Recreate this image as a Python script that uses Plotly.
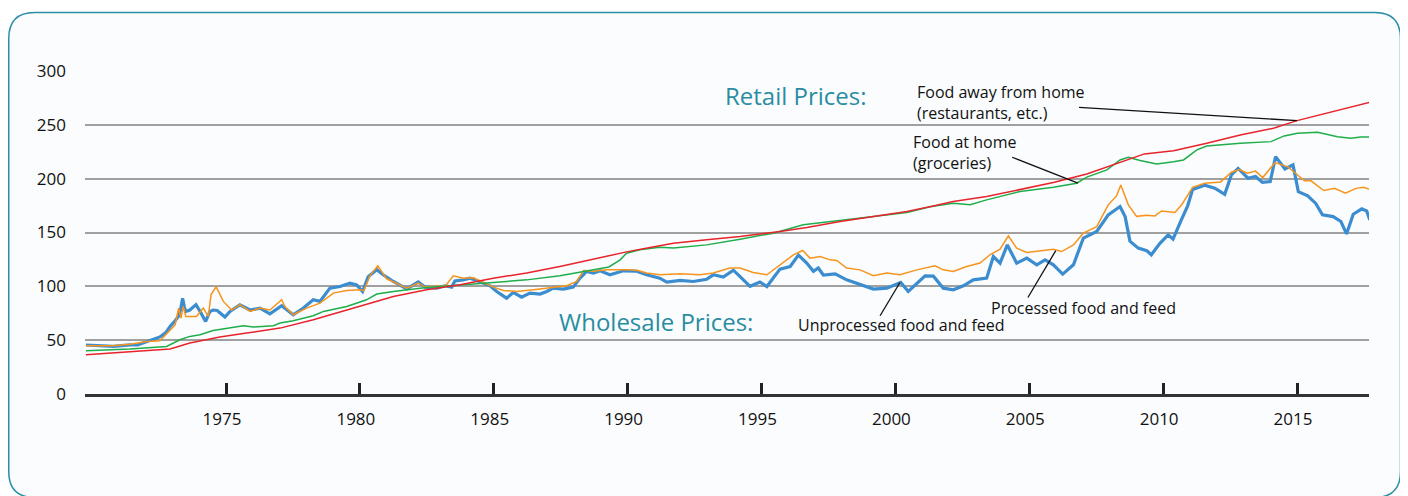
import plotly.graph_objects as go

# ---------------- data (decimal years, index values) ----------------
unproc_x = [1969.77, 1970.3, 1970.79, 1971.1, 1971.41, 1971.7, 1972.04, 1972.3, 1972.53, 1972.75, 1972.91,
            1973.1, 1973.22, 1973.3, 1973.38, 1973.45, 1973.5, 1973.65, 1973.88, 1974.03, 1974.24, 1974.4,
            1974.52, 1974.67, 1974.84, 1974.96, 1975.15, 1975.52, 1975.9, 1976.27, 1976.64, 1977.08, 1977.51,
            1977.89, 1978.26, 1978.51, 1978.88, 1979.26, 1979.63, 1979.88, 1980.1, 1980.31, 1980.63, 1980.87,
            1981.25, 1981.5, 1981.75, 1982.18, 1982.43, 1982.87, 1983.18, 1983.43, 1983.55, 1983.86, 1984.11,
            1984.36, 1984.61, 1984.86, 1985.11, 1985.48, 1985.73, 1986.04, 1986.35, 1986.73, 1986.98, 1987.22,
            1987.6, 1987.97, 1988.22, 1988.47, 1988.72, 1988.97, 1989.34, 1989.84, 1990.34, 1990.71, 1991.2,
            1991.46, 1991.96, 1992.45, 1992.95, 1993.2, 1993.57, 1993.95, 1994.2, 1994.57, 1994.94, 1995.2,
            1995.69, 1996.07, 1996.38, 1996.69, 1996.94, 1997.12, 1997.31, 1997.75, 1998.18, 1998.68, 1999.18,
            1999.68, 2000.2, 2000.48, 2000.8, 2001.11, 2001.42, 2001.79, 2002.16, 2002.54, 2002.91, 2003.41,
            2003.66, 2003.91, 2004.18, 2004.53, 2004.91, 2005.28, 2005.59, 2005.9, 2006.25, 2006.65, 2007.02,
            2007.52, 2007.95, 2008.39, 2008.58, 2008.76, 2009.07, 2009.39, 2009.56, 2009.88, 2010.19, 2010.37,
            2010.68, 2010.92, 2011.1, 2011.55, 2011.93, 2012.3, 2012.55, 2012.8, 2013.17, 2013.45, 2013.71,
            2014.0, 2014.2, 2014.55, 2014.85, 2015.05, 2015.4, 2015.7, 2015.95, 2016.35, 2016.64, 2016.85,
            2017.1, 2017.42, 2017.6, 2017.72]
unproc_y = [45.5, 45, 44.2, 45, 45.7, 45.5, 48.5, 51, 53, 57, 62.7,
            68, 72, 78, 89, 80, 76.7, 78, 83, 76.7, 67.4, 76.7,
            78, 77.6, 73.6, 71.5, 76.7, 82.9, 78, 79.8, 74.5, 82, 73.6,
            79.8, 87.5, 86, 98.3, 99.8, 103, 101.4, 95.2, 109, 115.5, 110.7,
            104.5, 101.4, 97.7, 104, 99.3, 98.3, 100.5, 99.3, 105, 106, 107.6,
            105.4, 103, 100.5, 95.2, 89, 94.3, 90, 93.7, 92.8, 95.2, 98.3,
            97.4, 99.3, 107.6, 113.8, 112.3, 114.4, 110.7, 114.4, 114, 110.7, 107.6,
            104, 105.5, 104.5, 106.5, 110.7, 108.6, 115, 109, 100, 104, 99.8,
            116, 118.4, 129, 121.6, 114, 117, 110.5, 111.6, 106, 101.4, 97.4,
            98.3, 103.6, 95.2, 103, 109.8, 109.5, 98.3, 96.8, 100.5, 106, 107.6,
            127.7, 121.6, 138.5, 121.6, 126.2, 120, 124.6, 120, 111.3, 120, 144.8,
            150.9, 166.4, 174.1, 164.8, 142, 135.5, 133, 129.3, 140, 147.8, 143.8,
            161.7, 175, 190, 194, 191.1, 185.5, 203.5, 209.5, 200.4, 202, 196.5,
            197.3, 220.5, 209, 212.8, 188, 184, 177, 166.5, 164.8, 160.2, 148.7,
            167, 172, 170, 161.7]

proc_x = [1969.77, 1970.79, 1971.41, 1972.04, 1972.53, 1972.91, 1973.1, 1973.23, 1973.32, 1973.4, 1973.5,
          1973.9, 1974.15, 1974.34, 1974.44, 1974.63, 1974.9, 1975.21, 1975.52, 1975.9, 1976.27, 1976.64,
          1977.08, 1977.2, 1977.51, 1978.01, 1978.51, 1979.01, 1979.51, 1980.0, 1980.15, 1980.38, 1980.67,
          1981.0, 1981.5, 1981.75, 1982.18, 1982.43, 1983.2, 1983.49, 1983.86, 1984.24, 1984.61, 1984.99,
          1985.36, 1985.85, 1986.48, 1987.1, 1987.72, 1988.1, 1988.35, 1988.72, 1989.21, 1989.96, 1990.34,
          1990.71, 1991.2, 1991.96, 1992.7, 1993.2, 1993.82, 1994.2, 1994.69, 1995.2, 1995.69, 1996.19,
          1996.54, 1996.81, 1997.19, 1997.56, 1997.81, 1998.18, 1998.68, 1999.18, 1999.68, 2000.17, 2000.8,
          2001.48, 2001.79, 2002.16, 2002.66, 2003.16, 2003.53, 2003.91, 2004.22, 2004.53, 2004.91, 2005.53,
          2005.9, 2006.21, 2006.65, 2007.02, 2007.52, 2007.95, 2008.26, 2008.42, 2008.7, 2009.01, 2009.39,
          2009.69, 2009.94, 2010.44, 2010.7, 2011.1, 2011.55, 2012.15, 2012.55, 2012.85, 2013.14, 2013.45,
          2013.72, 2014.18, 2014.65, 2014.9, 2015.28, 2015.52, 2016.0, 2016.4, 2016.81, 2017.2, 2017.5, 2017.75]
proc_y = [44.8, 44.8, 46.3, 48.8, 49.4, 59.7, 64.3, 79.8, 70.5, 81.3, 72,
          72, 79.8, 72, 92.1, 99.8, 86, 78, 82.9, 76.7, 79.8, 78,
          87.5, 81.3, 73.6, 79.8, 84.4, 93.7, 96.1, 96.8, 96, 110, 119,
          107, 101, 98.3, 103, 99.3, 100.5, 109.8, 107.6, 108, 103.6, 99.3,
          96.1, 95.2, 96.8, 98.3, 100.5, 104.5, 114.7, 114, 115.3, 115.3, 115,
          112.3, 110.7, 111.6, 110.7, 112.3, 117, 117, 112.8, 110.7, 120, 129.3,
          133.3, 126.2, 127.7, 124.6, 124, 117, 115.3, 109.8, 112.3, 110.7, 115.3,
          119, 115.3, 113.8, 118.4, 121.6, 129.3, 134.5, 146.9, 135.5, 131.4, 133.3,
          134.5, 132.3, 138.5, 149.4, 155.5, 175.7, 184, 194.2, 175.7, 165, 166,
          165.4, 170, 168.5, 176, 192, 195.8, 197, 206, 208.5, 205, 207,
          201, 215, 211.2, 206, 198, 198, 189, 191.1, 186.5, 191, 192, 189.6]

away_x = [1969.77, 1971.0, 1972.0, 1972.91, 1973.65, 1974.77, 1975.77, 1977.02, 1978.26, 1979.51, 1980.38,
          1981.25, 1982.49, 1983.74, 1984.98, 1986.23, 1987.47, 1988.72, 1989.96, 1990.84, 1991.71, 1992.95,
          1994.2, 1995.69, 1996.69, 1997.94, 1999.18, 2000.43, 2001.29, 2002.16, 2003.41, 2004.65, 2005.9,
          2007.15, 2008.39, 2009.3, 2010.39, 2011.63, 2012.88, 2014.12, 2015.0, 2015.99, 2017.73]
away_y = [36.5, 38.5, 40, 41.8, 47.3, 52.9, 56.6, 61.2, 68.9, 78.2, 84.4,
          90.6, 96.8, 101.4, 107.6, 112.3, 118.4, 125.3, 132, 136, 140.1, 143.2,
          146.2, 150.9, 154.6, 160.2, 164.8, 169.5, 174, 178.7, 183.4, 189.6, 196.4,
          204.4, 214.9, 223, 226, 232.9, 240.6, 246.8, 253.9, 260.1, 271]

home_x = [1969.77, 1971.41, 1972.78, 1973.28, 1973.65, 1974.03, 1974.52, 1975.15, 1975.65, 1976.02, 1976.77,
          1977.02, 1977.51, 1978.26, 1978.64, 1979.51, 1980.25, 1980.63, 1981.25, 1982.49, 1983.74, 1984.98,
          1986.23, 1987.47, 1988.72, 1989.3, 1989.72, 1989.96, 1990.46, 1991.2, 1991.71, 1992.95, 1994.2,
          1995.44, 1996.56, 1997.94, 1999.18, 2000.43, 2001.29, 2002.16, 2002.79, 2003.41, 2004.65, 2005.9,
          2006.77, 2007.15, 2007.9, 2008.39, 2008.7, 2009.14, 2009.76, 2010.39, 2010.76, 2011.26, 2011.63,
          2012.88, 2014.03, 2014.52, 2015.02, 2015.77, 2016.51, 2017.01, 2017.38, 2017.73]
home_y = [40.2, 41.8, 44.2, 50.4, 53.5, 55, 59, 61.2, 63.4, 62.2, 63.4,
          65.9, 68, 72.7, 76.7, 81.3, 87.5, 92.8, 95.2, 98.9, 101.4, 103.6,
          106, 109.8, 115.3, 118, 124.6, 130.8, 133.9, 136.4, 135.5, 138.5, 143.8,
          149.4, 157.1, 160.8, 164.8, 168.5, 174, 177.2, 175.7, 180.3, 188, 192.1,
          195.8, 201.4, 208.1, 217.4, 219.9, 216.8, 213.7, 215.8, 217.4, 226.7, 230.4,
          232.9, 234.4, 239.7, 242.2, 243.1, 239, 237.5, 238.8, 238.6]

x_tick_vals = [1975, 1980, 1985, 1990, 1995, 2000, 2005, 2010, 2015]
y_tick_vals = [0, 50, 100, 150, 200, 250, 300]

# ---------------- figure ----------------
# page has an 8px body margin, so the figure is 1400x488 placed at (8, 8)
W, H = 1400, 488
ML, MR, MT, MB = 77, 39, 63, 102
X0, X1 = 1969.734, 2017.689
FONT = "Open Sans"
TEAL = "#2a8ca3"

fig = go.Figure()
fig.add_trace(go.Scatter(x=unproc_x, y=unproc_y, mode="lines",
                         line=dict(color="#3c8dd0", width=3.2), name="Unprocessed food and feed"))
fig.add_trace(go.Scatter(x=proc_x, y=proc_y, mode="lines",
                         line=dict(color="#f7941d", width=1.5), name="Processed food and feed"))
fig.add_trace(go.Scatter(x=home_x, y=home_y, mode="lines",
                         line=dict(color="#1fae4b", width=1.5), name="Food at home"))
fig.add_trace(go.Scatter(x=away_x, y=away_y, mode="lines",
                         line=dict(color="#e8232b", width=1.5), name="Food away from home"))

# rounded frame (paper coordinates computed from figure pixels)
pw, ph = W - ML - MR, H - MT - MB
def px(xp):
    return (xp - ML) / pw
def py(yp):
    return (H - MB - yp) / ph
L, R, T, B, rad = 0.75, 1392.5, 4.5, 489.5, 26
path = (f"M {px(L+rad)},{py(T)} L {px(R-rad)},{py(T)} Q {px(R)},{py(T)} {px(R)},{py(T+rad)} "
        f"L {px(R)},{py(B-rad)} Q {px(R)},{py(B)} {px(R-rad)},{py(B)} "
        f"L {px(L+rad)},{py(B)} Q {px(L)},{py(B)} {px(L)},{py(B-rad)} "
        f"L {px(L)},{py(T+rad)} Q {px(L)},{py(T)} {px(L+rad)},{py(T)} Z")
fig.add_shape(type="path", path=path, xref="paper", yref="paper",
              line=dict(color="#2a8fa6", width=1.5), fillcolor="#fafcfd", layer="below")

# pointer lines
pointers = [
    (2006.86, 266.3, 2015.0, 253.9),
    (2004.36, 219.9, 2006.82, 195.8),
    (2004.95, 89.6, 2005.99, 133.2),
    (1999.43, 72.7, 2000.17, 103.6),
]
for xa, ya, xb, yb in pointers:
    fig.add_shape(type="line", x0=xa, y0=ya, x1=xb, y1=yb, xref="x", yref="y",
                  line=dict(color="#111111", width=1.3))

ann_font = dict(family=FONT, size=16, color="#111111")
fig.add_annotation(x=1993.55, y=277.7, text="Retail Prices:", showarrow=False, xanchor="left",
                   yanchor="middle", font=dict(family=FONT, size=24, color=TEAL))
fig.add_annotation(x=1987.35, y=67.4, text="Wholesale Prices:", showarrow=False, xanchor="left",
                   yanchor="middle", font=dict(family=FONT, size=24, color=TEAL))
fig.add_annotation(x=2000.75, y=271.2, text="Food away from home<br>(restaurants, etc.)", showarrow=False,
                   xanchor="left", yanchor="middle", align="left", font=ann_font)
fig.add_annotation(x=2000.6, y=223.9, text="Food at home<br>(groceries)", showarrow=False,
                   xanchor="left", yanchor="middle", align="left", font=ann_font)
fig.add_annotation(x=2003.5, y=79.8, text="Processed food and feed", showarrow=False,
                   xanchor="left", yanchor="middle", font=ann_font)
fig.add_annotation(x=1996.28, y=64.3, text="Unprocessed food and feed", showarrow=False,
                   xanchor="left", yanchor="middle", font=ann_font)

fig.update_layout(
    width=W, height=H,
    margin=dict(l=ML, r=MR, t=MT, b=MB, pad=0),
    paper_bgcolor="white", plot_bgcolor="rgba(0,0,0,0)",
    showlegend=False,
    font=dict(family=FONT, size=17, color="#111111"),
)
fig.update_xaxes(range=[X0, X1], tickmode="array", tickvals=x_tick_vals,
                 ticktext=[str(v) for v in x_tick_vals],
                 showgrid=False, zeroline=False, showline=True, linecolor="#333333", linewidth=2.5,
                 ticks="inside", ticklen=11, tickwidth=2.5, tickcolor="#222222",
                 ticklabelstandoff=8, ticklabelshift=-4,
                 tickfont=dict(family=FONT, size=17, color="#111111"))
fig.update_yaxes(range=[0, 300], tickmode="array", tickvals=y_tick_vals,
                 showgrid=True, gridcolor="#a0a0a0", gridwidth=1.6, zeroline=False, showline=False,
                 ticks="", ticklabelstandoff=18,
                 tickfont=dict(family=FONT, size=17, color="#111111"))

fig.write_html("out.html")
